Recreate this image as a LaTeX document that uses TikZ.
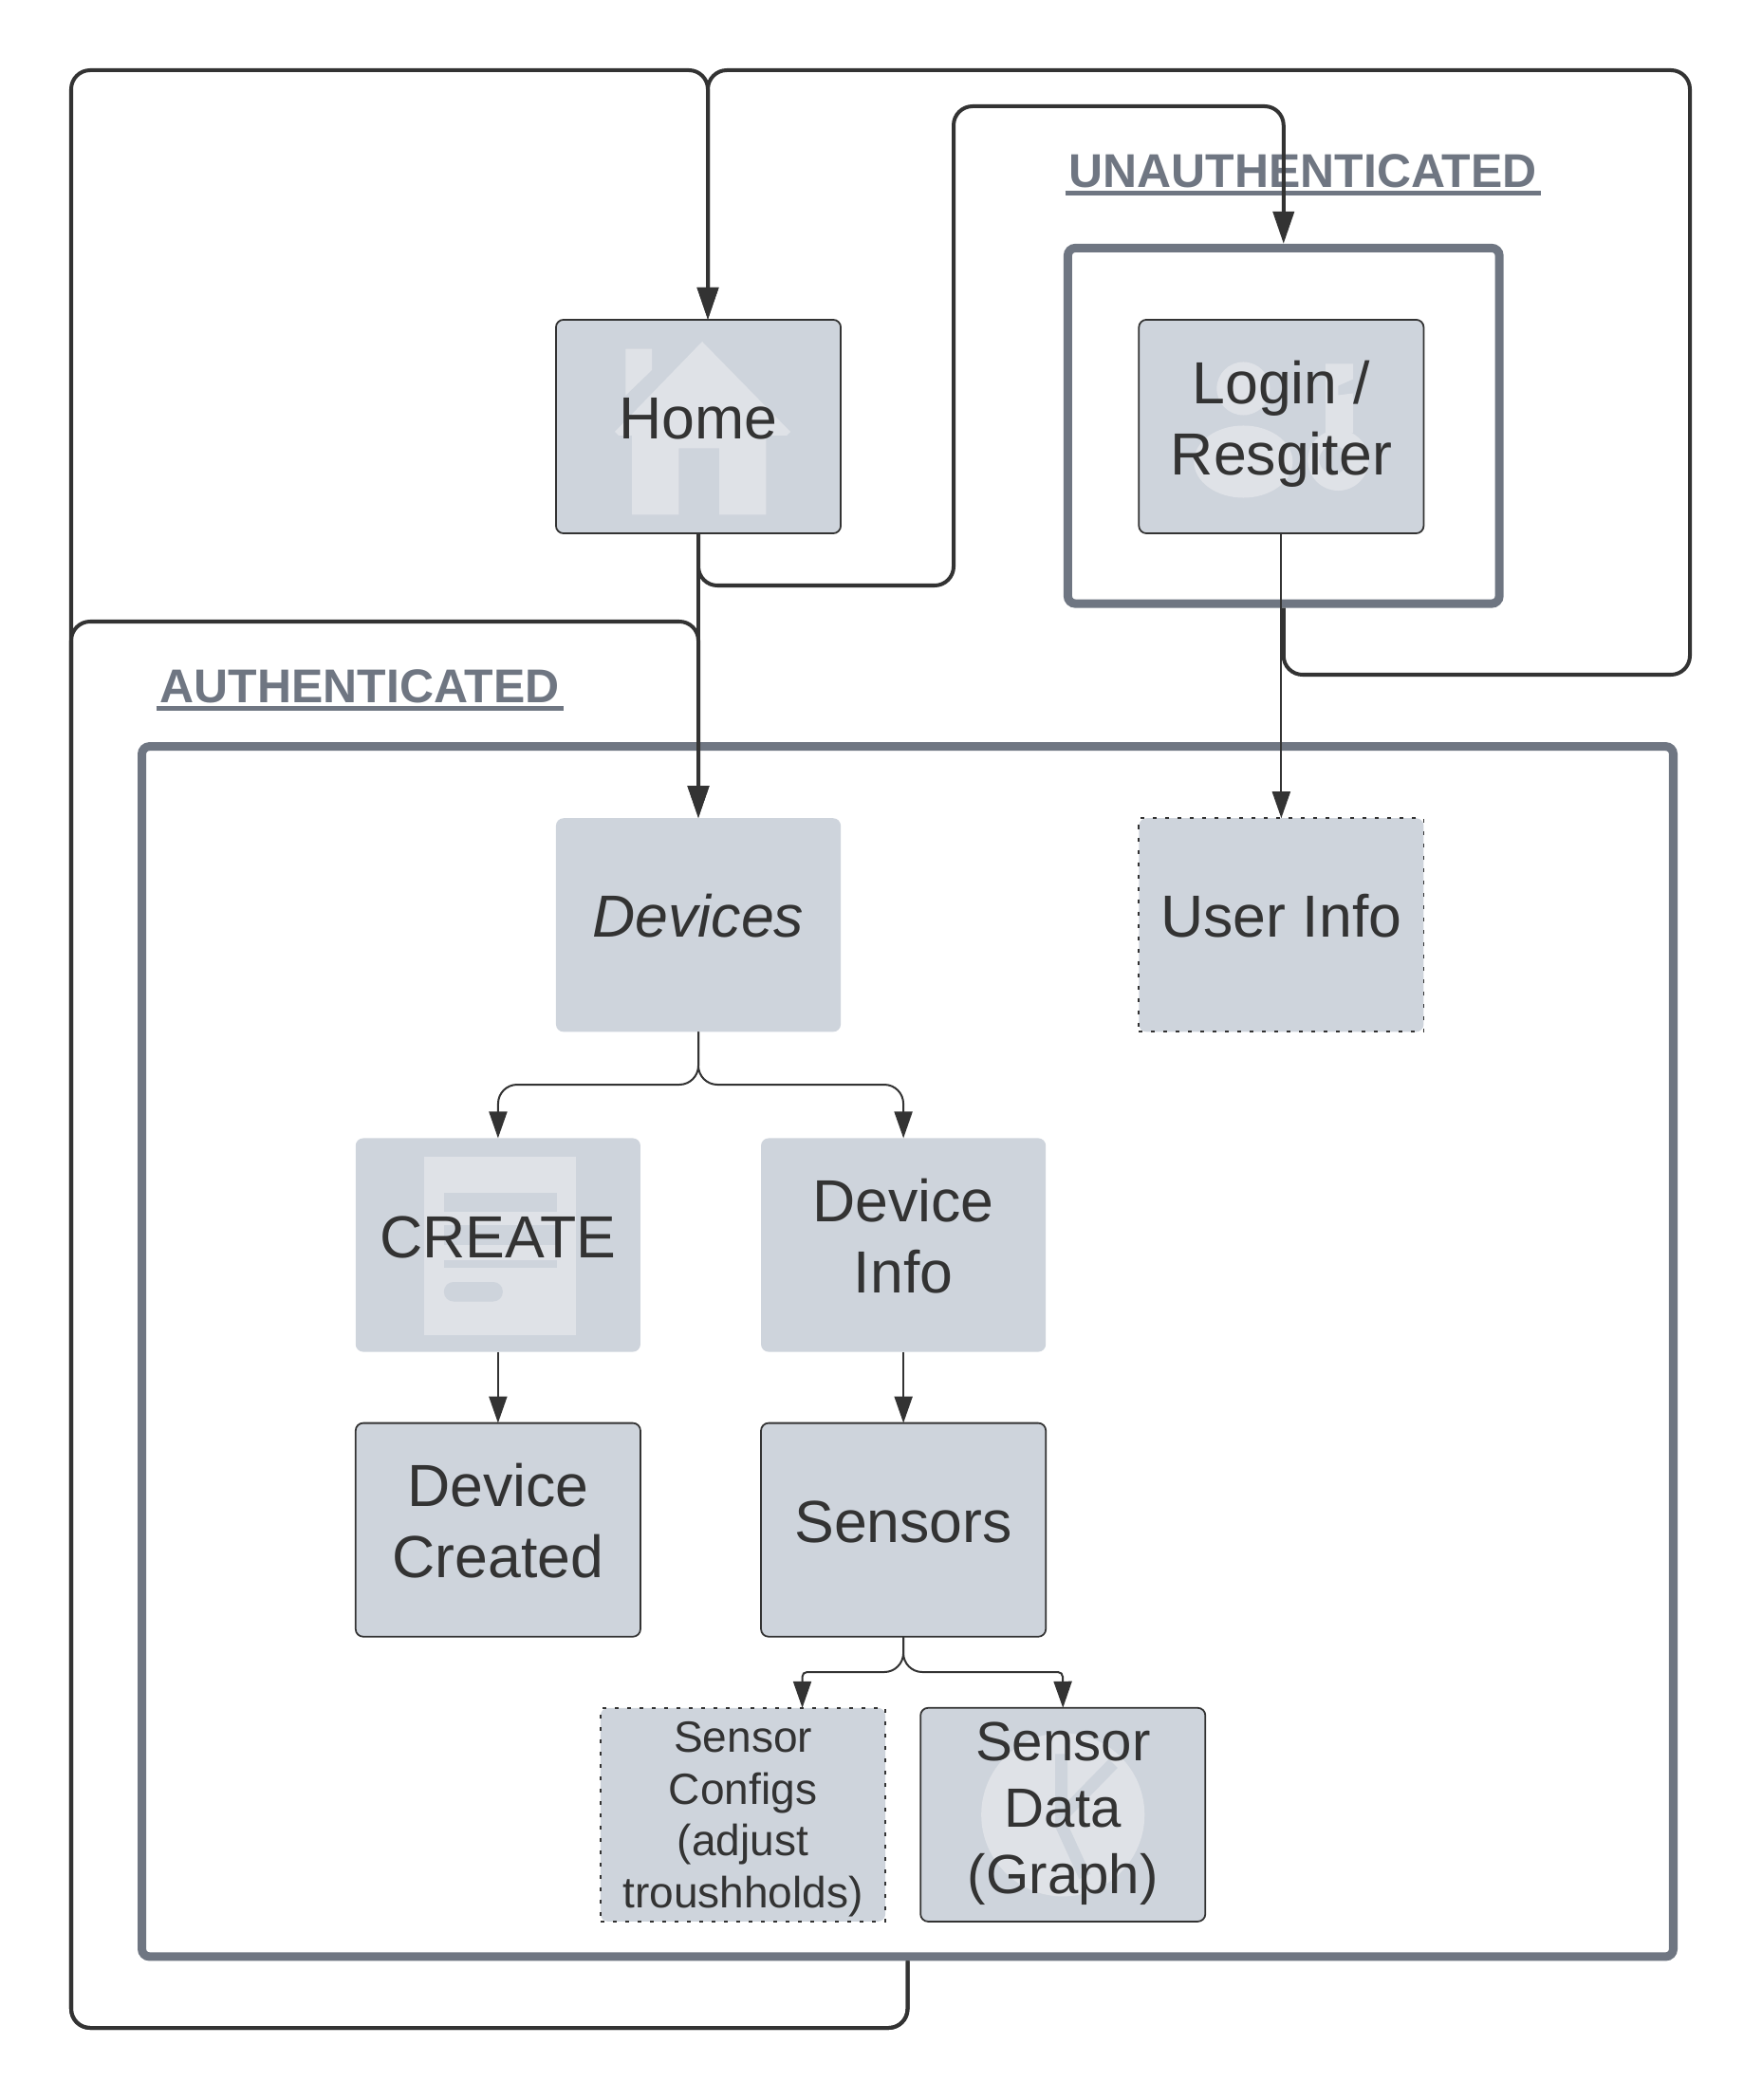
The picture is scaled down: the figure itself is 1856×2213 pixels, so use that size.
\documentclass[tikz,border=0pt]{standalone}
\usepackage{fontspec}
\setmainfont{Liberation Sans}
\definecolor{ink-dark}{HTML}{333333}
\definecolor{box-grey}{HTML}{CED4DC}
\definecolor{icon-pale}{HTML}{DFE2E7}
\definecolor{frame-grey}{HTML}{6F7682}
\usetikzlibrary{arrows.meta, positioning}
\newcommand{\headtxt}[1]{\vtop{\hbox{\kern1.14pt #1\kern1.3pt}\kern.85pt\hrule height 1.42pt}}
\newcommand{\iconmid}{path picture bounding box.center}

\begin{document}
\begin{tikzpicture}[
    x=.01cm, y=-.01cm,
    node distance=.75cm,
    page/.style={rectangle, rounded corners=.08cm, fill=box-grey, minimum width=3cm, minimum height=2.25cm, inner sep=0pt, outer sep=0pt, align=center, text=ink-dark, font=\fontsize{17.8}{21.3}\selectfont},
    pageline/.style={page, draw=ink-dark, line width=.5pt},
    pagedot/.style={page, fill=none, sharp corners, draw=ink-dark, line width=.5pt, dash pattern=on 1.14pt off 2.56pt,
        path picture={\fill[box-grey, rounded corners=.08cm] (path picture bounding box.north west) rectangle (path picture bounding box.south east);}},
    onetxt/.style={text height=14.2pt, text depth=6.8pt},
    twotxt/.style={text depth=5.4pt},
    frame/.style={rectangle, rounded corners=.08cm, draw=frame-grey, line width=2.56pt, inner sep=0pt},
    head/.style={anchor=base west, inner sep=0pt, text=frame-grey, font=\fontsize{14.2}{17}\selectfont\bfseries},
    arrow/.style={->, >={Triangle[length=.28cm, width=.19cm]}, draw=ink-dark, line width=.57pt, rounded corners=.2cm},
    bigarrow/.style={arrow, >={Triangle[length=.34cm, width=.22cm]}, line width=1.14pt},
    homeicon/.style={path picture={\begin{scope}[sharp corners]
        \fill[icon-pale] (\iconmid) +(4,-89.5) -- +(97,5.5) -- +(93,9.5) -- +(71.3,9.5) -- +(71.3,93) -- +(22,93) -- +(22,23) -- +(-20.7,23) -- +(-20.7,93) -- +(-70,93) -- +(-70,9.5) -- +(-84,9.5) -- +(-88,5.5) -- cycle;
        \fill[icon-pale] (\iconmid) +(-76.7,-81.8) -- +(-49,-81.8) -- +(-49,-59.5) -- +(-76.7,-32.8) -- cycle;
        \end{scope}}},
    keyicon/.style={path picture={\begin{scope}[sharp corners]
        \fill[icon-pale] (\iconmid) +(-40,-40) circle (.28cm);
        \fill[icon-pale] (\iconmid) +(-40,37) ellipse (.52cm and .38cm);
        \fill[icon-pale] (\iconmid) +(46.7,-66) -- +(75.7,-66) -- +(75.7,-50) -- +(60,-43) -- +(60,-33) -- +(75.7,-35) -- +(75.7,7) -- +(46.7,7) -- cycle;
        \fill[icon-pale, even odd rule] (\iconmid) +(60,35.5) circle (.32cm) +(55,35) circle (.15cm);
        \end{scope}}},
    formicon/.style={path picture={\begin{scope}[sharp corners]
        \fill[icon-pale] (\iconmid) +(-78,-93) rectangle +(82,94.5);
        \fill[box-grey] (\iconmid) +(-57,-55.5) rectangle +(62,-35);
        \fill[box-grey] (\iconmid) +(-57,-21.5) rectangle +(62,-.5);
        \fill[box-grey] (\iconmid) +(-57,16) rectangle +(62,23.5);
        \fill[box-grey, rounded corners=.1cm] (\iconmid) +(-57,39) rectangle +(5,59.5);
        \end{scope}}},
    clockicon/.style={path picture={\begin{scope}[sharp corners]
        \fill[icon-pale] (\iconmid) circle (.86cm);
        \draw[box-grey, line width=3.7pt] (\iconmid) +(-1.7,-64) -- +(-1.7,11) -- +(23,65);
        \draw[box-grey, line width=3.7pt] (\iconmid) +(53,-54) -- +(-1.7,2);
        \end{scope}}}
]
    \useasboundingbox (0,0) rectangle (1856,2213);

    % Frames
    \node[frame, minimum width=4.545cm, minimum height=3.745cm] (unauthframe) at (1352.75,448.75) {};
    \node[frame, minimum width=16.13cm, minimum height=12.745cm] (authframe) at (956.5,1424.25) {};
    \node[head] (unauthlabel) at (1122,198) {\headtxt{UNAUTHENTICATED}};
    \node[head] (authlabel) at (164,741) {\headtxt{AUTHENTICATED}};

    % Pages
    \node[pageline, onetxt, homeicon] (home) at (736,449.5) {Home};
    \node[pageline, twotxt, keyicon, right=3.14cm of home] (login) {Login /\\Resgiter};
    \node[page, onetxt, below=3cm of home] (devices) {\itshape Devices};
    \node[pagedot, onetxt, below=3cm of login] (userinfo) {User Info};
    \node[page, onetxt, formicon, below=1.12cm of devices, xshift=-2.11cm] (create) {CREATE};
    \node[page, twotxt, right=1.27cm of create] (deviceinfo) {Device\\Info};
    \node[pageline, twotxt, below=of create] (created) {Device\\Created};
    \node[pageline, onetxt, below=of deviceinfo] (sensors) {Sensors};
    \node[pagedot, below=of sensors, xshift=-1.69cm, text depth=0pt, font=\fontsize{13.1}{15.6}\selectfont] (configs) {Sensor\\Configs\\(adjust\\troushholds)};
    \node[pageline, clockicon, right=.37cm of configs, text depth=4pt, font=\fontsize{16.55}{19.9}\selectfont] (sensordata) {Sensor\\Data\\(Graph)};

    % Heavy links
    \draw[bigarrow] (authframe.south) -- (956.5,2137) -- (75,2137) -- (75,74) -- (746,74) -- ([xshift=.1cm]home.north);
    \draw[bigarrow] (unauthframe.south) -- (1352.75,711) -- (1781,711) -- (1781,74) -- (746,74) -- ([xshift=.1cm]home.north);
    \draw[bigarrow] (authframe.south) -- (956.5,2137) -- (75,2137) -- (75,655) -- (736,655) -- (devices.north);
    \draw[bigarrow] (home.south) -- (736,617) -- (1005,617) -- (1005,112) -- (1352.75,112) -- (unauthframe.north);
    \draw[bigarrow] (home) -- (devices);

    % Light links
    \draw[arrow] (login) -- (userinfo);
    \draw[arrow] (devices.south) -- (736,1143) -- (525,1143) -- (create.north);
    \draw[arrow] (devices.south) -- (736,1143) -- (952,1143) -- (deviceinfo.north);
    \draw[arrow] (create) -- (created);
    \draw[arrow] (deviceinfo) -- (sensors);
    \draw[arrow] (sensors.south) -- (952,1762) [rounded corners=.05cm] -- (845.5,1762) -- ([xshift=.625cm]configs.north);
    \draw[arrow] (sensors.south) -- (952,1762) [rounded corners=.05cm] -- (1120,1762) -- (sensordata.north);
\end{tikzpicture}
\end{document}
